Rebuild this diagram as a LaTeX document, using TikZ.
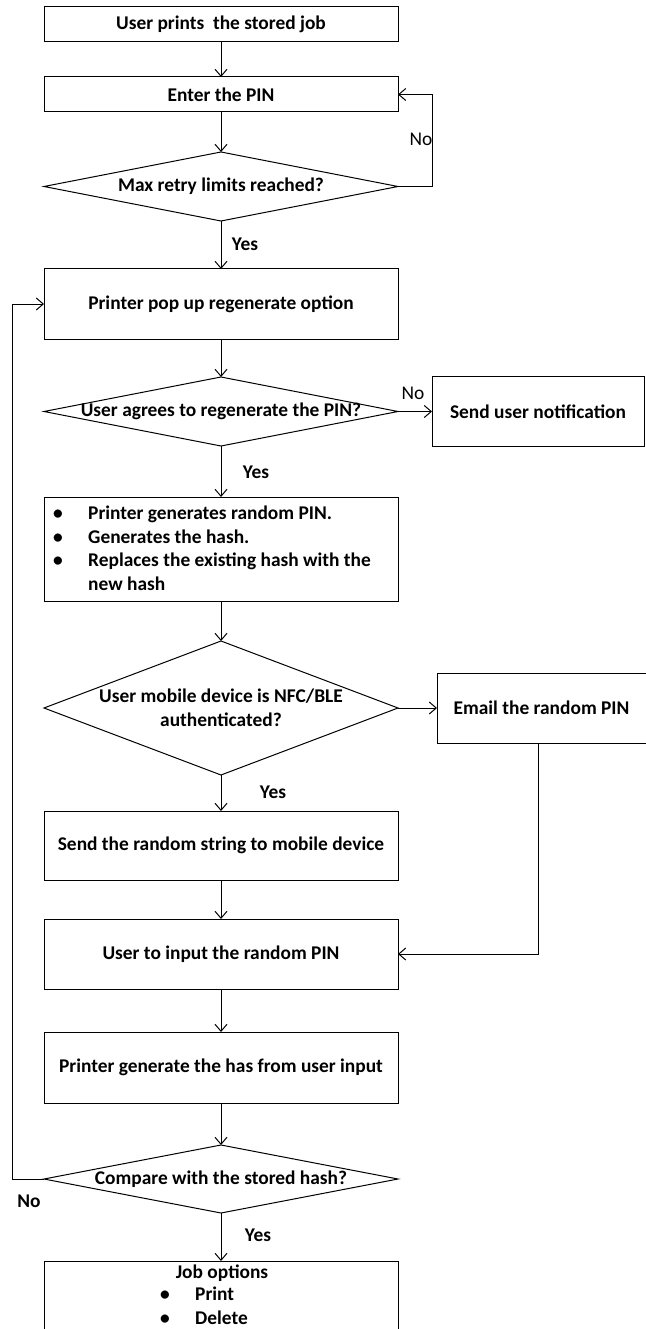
\documentclass[tikz,border=0pt]{standalone}
\usepackage{fontspec}
\setmainfont{Carlito}
\usetikzlibrary{shapes.geometric,arrows.meta}
\begin{document}
\begin{tikzpicture}[x=1pt,y=-1pt,
  every node/.style={font=\fontsize{19.4}{23.5}\selectfont\bfseries},
  box/.style={draw, line width=1pt, rectangle, inner sep=0pt, outer sep=0pt, minimum width=354pt},
  sidebox/.style={draw, line width=1pt, rectangle, inner sep=0pt, outer sep=0pt},
  dia/.style={draw, line width=1pt, diamond, inner sep=0pt, outer sep=0pt, minimum width=354pt},
  flow/.style={line width=1pt, -{Straight Barb[length=7pt,width=12pt]}},
  plain/.style={font=\fontsize{19.4}{23.5}\selectfont\mdseries},
]
\useasboundingbox (0,0) rectangle (645,1329);

% main column
\node[box, minimum height=35pt] (b1) at (221,24.5) {User prints\ \ the stored job};
\node[box, minimum height=35pt] (b2) at (221,94.5) {Enter the PIN};
\node[dia, minimum height=69pt, label={[name=d1t]center:Max retry limits reached?}] (d1) at (221,186.5) {};
\node[box, minimum height=70pt] (b3) at (221,304) {Printer pop up regenerate option};
\node[dia, minimum height=69pt, label={[name=d2t]center:User agrees to regenerate the PIN?}] (d2) at (221,411.5) {};
\node[box, minimum height=104pt] (b4) at (221,549) {};
\node[anchor=west, inner sep=0pt] (b4t) at (53,550.5) {%
  \begin{tabular}{@{}p{35pt}@{}l@{}}
  • & Printer generates random PIN.\\
  • & Generates the hash.\\
  • & Replaces the existing hash with the\\
    & new hash
  \end{tabular}};
\node[dia, minimum height=134pt, align=center,
      label={[name=d3t, align=center]center:User mobile device is NFC/BLE\\authenticated?}] (d3) at (221,708) {};
\node[box, minimum height=69pt] (b5) at (221,845.5) {Send the random string to mobile device};
\node[box, minimum height=70pt] (b6) at (221,954) {User to input the random PIN};
\node[box, minimum height=71pt] (b7) at (221,1067.5) {Printer generate the has from user input};
\node[dia, minimum height=68pt, label={[name=d4t]center:Compare with the stored hash?}] (d4) at (221,1179) {};
\node[box, minimum height=90pt, anchor=north] (job) at (221,1261) {};
\node (jobt) at (222,1273) {Job options};
\node[anchor=west, inner sep=0pt] (jobl) at (160,1308) {%
  \begin{tabular}{@{}p{35pt}@{}l@{}}
  • & Print\\
  • & Delete
  \end{tabular}};

% side boxes
\node[sidebox, minimum width=212pt, minimum height=70pt] (send) at (538,411.5) {Send user notification};
\node[sidebox, minimum width=209pt, minimum height=70pt] (email) at (541.5,708) {Email the random PIN};

% connectors
\draw[flow] (b1) -- (b2);
\draw[flow] (b2) -- (d1.north);
\draw[flow] (d1.east) -- ++(34,0) |- (b2.east);
\draw[flow] (d1.south) -- (b3.north);
\draw[flow] (b3) -- (d2.north);
\draw[flow] (d2.east) -- (send.west);
\draw[flow] (d2.south) -- (b4.north);
\draw[flow] (b4) -- (d3.north);
\draw[flow] (d3.east) -- (email.west);
\draw[flow] (d3.south) -- (b5.north);
\draw[flow] (b5) -- (b6);
\draw[flow] ([xshift=-3.5pt]email.south) |- (b6.east);
\draw[flow] (b6) -- (b7);
\draw[flow] (b7) -- (d4.north);
\draw[flow] (d4.west) -- ++(-32,0) |- (b3.west);
\draw[flow] (d4.south) -- (job.north);

% branch labels
\node[plain] (no1) at (421,139) {No};
\node (yes1) at (245,244) {Yes};
\node[plain] (no2) at (413,393) {No};
\node (yes2) at (256,472) {Yes};
\node (yes3) at (273,792) {Yes};
\node (no4) at (29,1201) {No};
\node (yes4) at (258,1235) {Yes};
\end{tikzpicture}
\end{document}
